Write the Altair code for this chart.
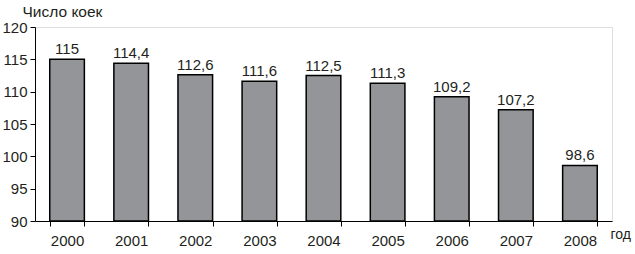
import altair as alt
import pandas as pd

years = ["2000", "2001", "2002", "2003", "2004", "2005", "2006", "2007", "2008"]
values = [115, 114.4, 112.6, 111.6, 112.5, 111.3, 109.2, 107.2, 98.6]
labels = ["115", "114,4", "112,6", "111,6", "112,5", "111,3", "109,2", "107,2", "98,6"]
y_ticks = [90, 95, 100, 105, 110, 115, 120]

df = pd.DataFrame({"year": years, "value": values, "label": labels})

FONT = "Liberation Sans"
INK = "#231f20"

x = alt.X("year:N", sort=years,
          scale=alt.Scale(paddingInner=0.46, paddingOuter=0.23),
          axis=alt.Axis(title="год", labelAngle=0, labelFontSize=15, labelFont=FONT,
                        labelColor=INK, labelPadding=7, tickBand="extent",
                        tickSize=5, tickColor="black", domainColor="black",
                        titleFont=FONT, titleFontSize=14, titleFontWeight="normal",
                        titleColor=INK, titleAngle=0, titleAlign="left",
                        titleBaseline="middle", titleX=575, titleY=13))
y = alt.Y("value:Q",
          scale=alt.Scale(domain=[90, 120], zero=False, nice=False),
          axis=alt.Axis(values=y_ticks, title="Число коек", labelFontSize=15,
                        labelFont=FONT, labelColor=INK, labelPadding=3,
                        labelOverlap=False, labelFlush=False,
                        tickSize=5, tickColor="black", domainColor="black",
                        grid=False, titleFont=FONT, titleFontSize=15.5,
                        titleFontWeight="normal", titleColor=INK, titleAngle=0,
                        titleAlign="left", titleBaseline="middle",
                        titleX=-13, titleY=-16))

bars = alt.Chart(df).mark_bar(color="#939598", stroke="black", strokeWidth=1.5).encode(
    x=x, y=y, y2=alt.datum(90)
)
text = alt.Chart(df).mark_text(dy=-10, fontSize=15, font=FONT, color=INK).encode(
    x=x, y=y, text="label:N"
)

chart = (bars + text).properties(
    width=577, height=194,
    autosize=alt.AutoSizeParams(type="none"),
    padding={"left": 35, "top": 27, "right": 23, "bottom": 33},
).configure_view(stroke=None).configure(background="white")

chart.save("out.html", embed_options={"renderer": "svg", "actions": False})
